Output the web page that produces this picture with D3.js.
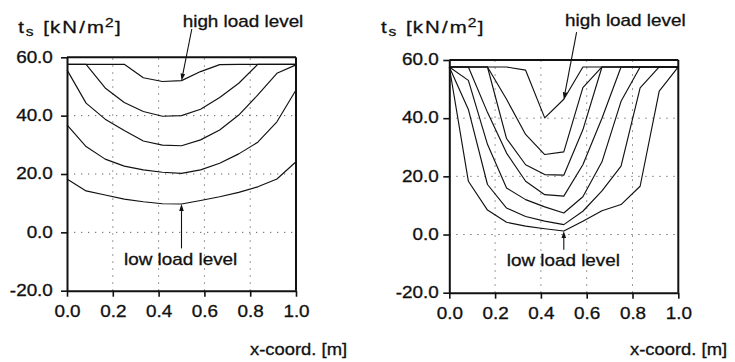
<!DOCTYPE html>
<html>
<head>
<meta charset="utf-8">
<script src="https://cdn.jsdelivr.net/npm/d3@7"></script>
<style>
  html, body { margin: 0; padding: 0; background: #fff; }
  svg { display: block; }
  text { font-family: "Liberation Sans", Arial, Helvetica, sans-serif; fill: #111; stroke: #111; stroke-width: 0.3px; }
</style>
</head>
<body>
<svg id="chart" width="735" height="362"></svg>
<script>
// x positions of the computed nodes along the beam [m]
const xCoord = [0, 0.0833, 0.1667, 0.25, 0.3333, 0.4167, 0.5, 0.5833, 0.6667, 0.75, 0.8333, 0.9167, 1.0];

// shear stress t_s [kN/m2], left panel, from high to low load level
const leftCurve1 = [57.6, 57.6, 57.6, 57.6, 53.0, 51.7, 52.0, 55.1, 57.5, 57.6, 57.6, 57.6, 57.6];
const leftCurve2 = [57.6, 57.6, 49.5, 44.5, 41.4, 39.8, 40.0, 42.2, 46.2, 51.1, 57.6, 57.6, 57.6];
const leftCurve3 = [55.7, 44.3, 38.8, 34.9, 31.3, 29.9, 29.7, 31.7, 35.1, 40.2, 47.1, 54.5, 57.4];
const leftCurve4 = [36.8, 29.4, 25.1, 22.7, 21.4, 20.6, 20.2, 21.4, 23.7, 26.9, 30.9, 37.9, 48.8];
const leftCurve5 = [18.3, 14.2, 12.8, 11.4, 10.5, 9.8, 9.7, 10.9, 12.2, 13.7, 15.6, 18.3, 24.2];

// shear stress t_s [kN/m2], right panel, from high to low load level
const rightCurve1 = [57.6, 57.6, 57.6, 57.6, 56.5, 40.1, 46.5, 57.6, 57.6, 57.6, 57.6, 57.6, 57.6];
const rightCurve2 = [57.6, 57.6, 57.6, 46.5, 34.4, 27.5, 28.4, 50.5, 57.6, 57.6, 57.6, 57.6, 57.6];
const rightCurve3 = [57.6, 57.6, 57.6, 33.0, 24.0, 20.6, 20.4, 36.0, 57.6, 57.6, 57.6, 57.6, 57.6];
const rightCurve4 = [57.6, 57.6, 42.0, 28.0, 18.3, 13.7, 13.2, 24.0, 40.0, 57.6, 57.6, 57.6, 57.6];
const rightCurve5 = [57.6, 53.0, 31.0, 16.0, 12.0, 9.5, 7.4, 13.0, 25.0, 45.8, 57.6, 57.6, 57.6];
const rightCurve6 = [57.6, 43.0, 17.2, 9.1, 6.2, 4.6, 3.4, 8.0, 15.0, 23.5, 50.4, 57.6, 57.6];
const rightCurve7 = [57.6, 18.3, 8.4, 4.2, 2.9, 2.0, 1.2, 4.6, 8.2, 10.3, 16.6, 49.3, 57.6];

// axis ticks and their labels
const xTicks = [0, 0.2, 0.4, 0.6, 0.8, 1.0];
const xTickLabels = ["0.0", "0.2", "0.4", "0.6", "0.8", "1.0"];
const yTicks = [-20, 0, 20, 40, 60];
const yTickLabels = ["-20.0", "0.0", "20.0", "40.0", "60.0"];
const xGrid = [0.2, 0.4, 0.6, 0.8];
const yGrid = [0, 20, 40];

// annotation arrows: tail and tip in data units
const leftHighArrow = { tail: [0.545, 69.7], tip: [0.5, 52.0] };
const leftLowArrow = { tail: [0.5, -5.5], tip: [0.5, 9.7] };
const rightHighArrow = { tail: [0.556, 69.6], tip: [0.5, 46.5] };
const rightLowArrow = { tail: [0.5, -5.2], tip: [0.5, 1.2] };

const svg = d3.select("#chart");
const SX = 1.18; // horizontal stretch of the lettering

function label(g, x, y, str, sx) {
  return g.append("text")
    .attr("transform", `translate(${x},${y}) scale(${sx || SX},1)`)
    .style("font-size", "16px")
    .text(str);
}

function panel(cfg) {
  const x = d3.scaleLinear().domain([0, 1]).range([cfg.x0, cfg.x1]);
  const y = d3.scaleLinear().domain([-20, 60]).range([cfg.y1, cfg.y0]);
  const g = svg.append("g");

  // dotted grid
  g.selectAll(".vg").data(xGrid).join("line")
    .attr("x1", d => x(d)).attr("x2", d => x(d))
    .attr("y1", y(-20)).attr("y2", y(60))
    .attr("stroke", "#666").attr("stroke-width", 1)
    .attr("stroke-dasharray", "1.3,5.7");
  g.selectAll(".hg").data(yGrid).join("line")
    .attr("x1", x(0)).attr("x2", x(1))
    .attr("y1", d => y(d)).attr("y2", d => y(d))
    .attr("stroke", "#666").attr("stroke-width", 1)
    .attr("stroke-dasharray", "1.3,5.7");

  // curves
  const line = d3.line().x((d, i) => x(xCoord[i])).y(d => y(d));
  g.selectAll(".curve").data(cfg.curves).join("path")
    .attr("d", line)
    .attr("fill", "none")
    .attr("stroke", "#111")
    .attr("stroke-width", 1.15)
    .attr("stroke-linejoin", "round");

  // frame (top and right edges)
  g.append("line").attr("x1", x(0)).attr("x2", x(1)).attr("y1", y(60)).attr("y2", y(60))
    .attr("stroke", "#111").attr("stroke-width", 2);
  g.append("line").attr("x1", x(1)).attr("x2", x(1)).attr("y1", y(60)).attr("y2", y(-20))
    .attr("stroke", "#111").attr("stroke-width", 2);

  // axes
  const ax = g.append("g").attr("transform", `translate(0,${y(-20)})`)
    .call(d3.axisBottom(x).tickValues(xTicks).tickSize(6).tickSizeOuter(0).tickPadding(9)
      .tickFormat((d, i) => xTickLabels[i]));
  const ay = g.append("g").attr("transform", `translate(${x(0)},0)`)
    .call(d3.axisLeft(y).tickValues(yTicks).tickSize(6).tickSizeOuter(0).tickPadding(cfg.yPad)
      .tickFormat((d, i) => yTickLabels[i]));
  [ax, ay].forEach(a => {
    a.select(".domain").attr("stroke", "#111").attr("stroke-width", 2);
    a.selectAll(".tick line").attr("stroke", "#111").attr("stroke-width", 1.6);
    a.selectAll(".tick text")
      .style("font-size", "16px")
      .style("font-family", "'Liberation Sans', Arial, sans-serif")
      .attr("fill", "#111");
  });
  ax.selectAll(".tick text").attr("transform", `scale(${SX},1)`);
  ay.selectAll(".tick text").attr("transform", `scale(${SX},1)`).attr("dy", "0.3em");

  // arrows
  [cfg.highArrow, cfg.lowArrow].forEach(a => {
    const x1 = x(a.tail[0]), y1 = y(a.tail[1]);
    const x2 = x(a.tip[0]), y2 = y(a.tip[1]);
    const ang = Math.atan2(y2 - y1, x2 - x1);
    const L = 7, W = 2.3;
    const bx = x2 - L * Math.cos(ang), by = y2 - L * Math.sin(ang);
    g.append("line").attr("x1", x1).attr("y1", y1).attr("x2", bx).attr("y2", by)
      .attr("stroke", "#111").attr("stroke-width", 1.1);
    g.append("path")
      .attr("d", `M${x2},${y2}L${bx - W * Math.sin(ang)},${by + W * Math.cos(ang)}L${bx + W * Math.sin(ang)},${by - W * Math.cos(ang)}Z`)
      .attr("fill", "#111");
  });

  // y axis title: t_s [kN/m2]
  const t = g.append("text")
    .attr("transform", `translate(${cfg.titleX},33) scale(1.2,1)`)
    .style("font-size", "17px");
  t.append("tspan").attr("x", 0).text("t");
  t.append("tspan").attr("x", 6.2).attr("dy", 3).style("font-size", "13px").text("s");
  t.append("tspan").attr("x", 20.8).attr("dy", -3).text("[");
  t.append("tspan").attr("x", 26.4).style("letter-spacing", "1.8px").text("kN/m");
  t.append("tspan").attr("x", 72.3).attr("dy", -6.5).style("font-size", "13px").text("2");
  t.append("tspan").attr("x", 80.6).attr("dy", 6.5).text("]");

  label(g, cfg.highX, cfg.highY, "high load level");
  label(g, cfg.lowX, cfg.lowY, "low load level");
  label(g, cfg.xTitleX, 355, "x-coord. [m]", 1.15);
}

panel({
  x0: 67, x1: 296, y0: 57.3, y1: 290.7, yPad: 6,
  curves: [leftCurve1, leftCurve2, leftCurve3, leftCurve4, leftCurve5],
  highArrow: leftHighArrow, lowArrow: leftLowArrow,
  titleX: 18.3, highX: 182.7, highY: 26.7, lowX: 124, lowY: 265, xTitleX: 250
});

panel({
  x0: 449.3, x1: 678.3, y0: 60, y1: 292.7, yPad: 3,
  curves: [rightCurve1, rightCurve2, rightCurve3, rightCurve4, rightCurve5, rightCurve6, rightCurve7],
  highArrow: rightHighArrow, lowArrow: rightLowArrow,
  titleX: 381, highX: 565, highY: 26, lowX: 506.7, lowY: 266, xTitleX: 630
});
</script>
</body>
</html>
